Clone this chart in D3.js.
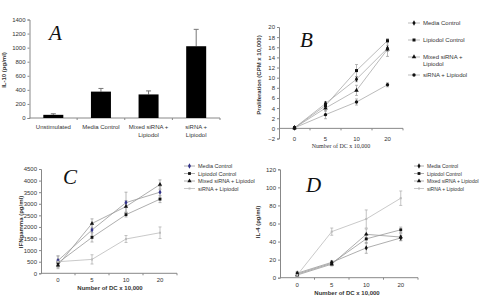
<!DOCTYPE html>
<html>
<head>
<meta charset="utf-8">
<script src="https://cdn.jsdelivr.net/npm/d3@7"></script>
<style>
  body { margin: 0; background: #fff; }
  svg { display: block; font-family: "Liberation Sans", Arial, sans-serif; }
  .tick text { fill: #333; font-size: 6px; }
  .letter { font-family: "Liberation Serif", "Times New Roman", serif; font-style: italic; font-size: 21px; fill: #111; }
</style>
</head>
<body>
<div id="chart"></div>
<script>
// panel A - IL-10
const groupsA = ['Unstimulated', 'Media Control', 'Mixed siRNA +|Lipiodol', 'siRNA +|Lipiodol'];
const il10 = [45, 375, 335, 1020];
const il10Err = [15, 45, 50, 240];

// x categories shared by B, C, D
const dcCounts = ['0', '5', '10', '20'];
const seriesNames = ['Media Control', 'Lipiodol Control', 'Mixed siRNA + Lipiodol', 'siRNA + Lipiodol'];

// panel B - proliferation
const prolMedia = [0.1, 4.9, 9.7, 15.8];
const prolLipiodol = [0.1, 4.5, 11.4, 17.3];
const prolMixed = [0.1, 4.0, 7.5, 15.6];
const prolSirna = [0.1, 2.7, 5.2, 8.6];
const prolErr = [[0.2, 0.4, 0.5, 0.6], [0.2, 0.5, 1.2, 0.4], [0.2, 0.6, 1.0, 1.4], [0.2, 0.8, 0.6, 0.4]];

// panel C - IFN-gamma
const ifnMedia = [550, 1870, 3050, 3500];
const ifnLipiodol = [450, 1550, 2530, 3200];
const ifnMixed = [350, 2150, 2880, 3830];
const ifnSirna = [500, 600, 1480, 1750];
const ifnErr = [[200, 250, 450, 250], [150, 200, 100, 150], [150, 200, 250, 200], [250, 200, 150, 250]];

// panel D - IL-4
const il4Media = [5, 17, 33, 44];
const il4Lipiodol = [4, 16, 43, 53];
const il4Mixed = [3, 15, 48, 45];
const il4Sirna = [3, 51, 65, 88];
const il4Err = [[2, 2, 6, 3], [2, 2, 5, 3], [2, 2, 6, 4], [2, 4, 10, 8]];

const W = 483, H = 303;
let svg = d3.select('#chart').append('svg').attr('width', W).attr('height', H);

const axisColor = '#888';

function yAxis(g, y, x0, ticks) {
  let ax = g.append('g')
      .attr('transform', 'translate(' + x0 + ',0)')
      .call(d3.axisLeft(y).tickValues(ticks).tickFormat(d3.format('d')).tickSize(2).tickPadding(2));
  ax.selectAll('path, line').attr('stroke', axisColor);
  return ax;
}

function marker(g, type, cx, cy, color, s) {
  let sym = {diamond: d3.symbolDiamond, square: d3.symbolSquare, triangle: d3.symbolTriangle,
    circle: d3.symbolCircle, dash: d3.symbolSquare}[type];
  g.append('path')
      .attr('d', d3.symbol().type(sym).size(type === 'dash' ? 4 : s)())
      .attr('transform', 'translate(' + cx + ',' + cy + ')')
      .attr('fill', color);
}

// ---------------- A ----------------
(function () {
  let g = svg.append('g');
  let y = d3.scaleLinear().domain([0, 1400]).range([118, 19.5]);
  let x = d3.scaleBand().domain(groupsA).range([29.5, 220]).paddingInner(0.58).paddingOuter(0.29);
  let xb = d3.scaleBand().domain(groupsA).range([29.5, 220]);

  yAxis(g, y, 29.5, d3.range(0, 1401, 200));
  g.selectAll(null).data(xb.domain()).enter().append('line')
      .attr('x1', d => xb(d) + xb.bandwidth()).attr('x2', d => xb(d) + xb.bandwidth())
      .attr('y1', 118).attr('y2', 120).attr('stroke', axisColor);
  g.append('line').attr('x1', 29.5).attr('x2', 220).attr('y1', 118).attr('y2', 118).attr('stroke', axisColor);

  g.selectAll('.err').data(groupsA).enter().append('g').each(function (d, i) {
    let cx = x(d) + x.bandwidth() / 2;
    let e = d3.select(this);
    e.append('line').attr('x1', cx).attr('x2', cx)
        .attr('y1', y(il10[i])).attr('y2', y(il10[i] + il10Err[i])).attr('stroke', '#777');
    e.append('line').attr('x1', cx - 2.5).attr('x2', cx + 2.5)
        .attr('y1', y(il10[i] + il10Err[i])).attr('y2', y(il10[i] + il10Err[i])).attr('stroke', '#777');
  });

  g.selectAll('.bar').data(groupsA).enter().append('rect')
      .attr('x', d => x(d))
      .attr('width', x.bandwidth())
      .attr('y', (d, i) => y(il10[i]))
      .attr('height', (d, i) => 118 - y(il10[i]))
      .attr('fill', '#000');

  g.selectAll('.lbl').data(groupsA).enter().append('text')
      .attr('x', d => xb(d) + xb.bandwidth() / 2)
      .attr('y', 129)
      .attr('text-anchor', 'middle')
      .attr('font-size', 6)
      .attr('fill', '#333')
      .each(function (d) {
        let parts = d.split('|');
        let t = d3.select(this);
        parts.forEach((p, k) => t.append('tspan').attr('x', xb(d) + xb.bandwidth() / 2).attr('dy', k ? 7.5 : 0).text(p));
      });

  g.append('text').attr('transform', 'translate(6,70) rotate(-90)')
      .attr('text-anchor', 'middle').attr('font-size', 6).attr('font-weight', 'bold').attr('fill', '#333')
      .text('IL-10 (pg/ml)');
  g.append('text').attr('class', 'letter').attr('x', 49).attr('y', 40).text('A');
})();

// generic line panel
function linePanel(cfg) {
  let g = svg.append('g');
  let y = d3.scaleLinear().domain(cfg.yDomain).range(cfg.yRange);
  let xb = d3.scaleBand().domain(dcCounts).range(cfg.xRange);
  let cx = d => xb(d) + xb.bandwidth() / 2;
  let baseY = y(0);

  yAxis(g, y, cfg.xRange[0], cfg.yTicks);
  g.selectAll(null).data(dcCounts).enter().append('line')
      .attr('x1', d => xb(d) + xb.bandwidth()).attr('x2', d => xb(d) + xb.bandwidth())
      .attr('y1', baseY).attr('y2', baseY + 2).attr('stroke', axisColor);
  g.append('line').attr('x1', cfg.xRange[0]).attr('x2', cfg.xRange[1])
      .attr('y1', baseY).attr('y2', baseY).attr('stroke', axisColor);

  g.selectAll('.xl').data(dcCounts).enter().append('text')
      .attr('x', cx).attr('y', cfg.xLabelY)
      .attr('text-anchor', 'middle').attr('font-size', 6).attr('fill', '#333')
      .text(d => d);

  let line = d3.line().x((v, i) => cx(dcCounts[i])).y(v => y(v));

  cfg.series.forEach((s, k) => {
    g.append('path').datum(s.values)
        .attr('d', line).attr('fill', 'none')
        .attr('stroke', s.line).attr('stroke-width', 0.8);
    s.values.forEach((v, i) => {
      let e = s.err[i], px = cx(dcCounts[i]);
      g.append('line').attr('x1', px).attr('x2', px).attr('y1', y(v - e)).attr('y2', y(v + e))
          .attr('stroke', s.errColor || '#999').attr('stroke-width', 0.7);
      [v - e, v + e].forEach(w => g.append('line')
          .attr('x1', px - 1.5).attr('x2', px + 1.5).attr('y1', y(w)).attr('y2', y(w))
          .attr('stroke', s.errColor || '#999').attr('stroke-width', 0.7));
    });
  });
  cfg.series.forEach(s => {
    s.values.forEach((v, i) => marker(g, s.marker, cx(dcCounts[i]), y(v), s.color, cfg.markerSize));
  });

  // legend
  cfg.series.forEach((s, k) => {
    let ly = cfg.legendY[k];
    let tx = cfg.legendX + cfg.legendLine + 3;
    g.append('line').attr('x1', cfg.legendX).attr('x2', cfg.legendX + cfg.legendLine)
        .attr('y1', ly).attr('y2', ly).attr('stroke', s.line).attr('stroke-width', 0.8);
    marker(g, s.marker, cfg.legendX + cfg.legendLine / 2, ly, s.color, cfg.markerSize);
    let t = g.append('text').attr('x', tx).attr('y', ly + 2)
        .attr('font-size', cfg.legendFont || 6).attr('fill', '#333');
    let parts = (cfg.legendLabels || seriesNames)[k].split('|');
    parts.forEach((p, j) => t.append('tspan').attr('x', tx).attr('dy', j ? 7 : 0).text(p));
  });

  g.append('text').attr('x', cfg.xTitle[0]).attr('y', cfg.xTitle[1])
      .attr('text-anchor', 'middle').attr('font-size', 6)
      .attr('font-weight', cfg.serifTitle ? 'normal' : 'bold')
      .attr('font-family', cfg.serifTitle ? '"Liberation Serif", serif' : null)
      .attr('fill', '#333').text('Number of DC x 10,000');
  g.append('text').attr('transform', 'translate(' + cfg.yTitle[0] + ',' + cfg.yTitle[1] + ') rotate(-90)')
      .attr('text-anchor', 'middle').attr('font-size', 6).attr('font-weight', 'bold').attr('fill', '#333')
      .text(cfg.yTitleText);
  g.append('text').attr('class', 'letter').attr('x', cfg.letter[0]).attr('y', cfg.letter[1]).text(cfg.letter[2]);
}

// ---------------- B ----------------
linePanel({
  yDomain: [-2, 20], yRange: [138.5, 27], yTicks: d3.range(-2, 21, 2),
  xRange: [279, 403], xLabelY: 141,
  series: [
    {values: prolMedia, err: prolErr[0], marker: 'diamond', color: '#111', line: '#aaa'},
    {values: prolLipiodol, err: prolErr[1], marker: 'square', color: '#111', line: '#aaa'},
    {values: prolMixed, err: prolErr[2], marker: 'triangle', color: '#111', line: '#aaa'},
    {values: prolSirna, err: prolErr[3], marker: 'circle', color: '#111', line: '#aaa'}
  ],
  markerSize: 9,
  legendX: 408, legendLine: 12, legendY: [23, 40, 57, 75],
  legendLabels: ['Media Control', 'Lipiodol Control', 'Mixed siRNA +|Lipiodol', 'siRNA + Lipiodol'],
  xTitle: [341, 148], serifTitle: true,
  yTitle: [261, 75], yTitleText: 'Proliferation (CPM x 10,000)',
  letter: [300, 47, 'B']
});

// ---------------- C ----------------
linePanel({
  yDomain: [0, 4500], yRange: [273.3, 169], yTicks: d3.range(0, 4501, 500),
  xRange: [41, 177], xLabelY: 282,
  series: [
    {values: ifnMedia, err: ifnErr[0], marker: 'diamond', color: '#33338a', line: '#999'},
    {values: ifnLipiodol, err: ifnErr[1], marker: 'square', color: '#111', line: '#999'},
    {values: ifnMixed, err: ifnErr[2], marker: 'triangle', color: '#111', line: '#999'},
    {values: ifnSirna, err: ifnErr[3], marker: 'dash', color: '#bbb', line: '#bbb', errColor: '#aaa'}
  ],
  markerSize: 8,
  legendX: 184, legendLine: 11, legendY: [166, 173.5, 181, 188.5], legendFont: 5.5,
  xTitle: [110, 290],
  yTitle: [23, 222], yTitleText: 'IFNgamma (pg/ml)',
  letter: [63, 184, 'C']
});

// ---------------- D ----------------
linePanel({
  yDomain: [0, 120], yRange: [277.7, 169.3], yTicks: d3.range(0, 121, 20),
  xRange: [280, 418], xLabelY: 287,
  series: [
    {values: il4Media, err: il4Err[0], marker: 'diamond', color: '#111', line: '#999'},
    {values: il4Lipiodol, err: il4Err[1], marker: 'square', color: '#111', line: '#999'},
    {values: il4Mixed, err: il4Err[2], marker: 'triangle', color: '#111', line: '#999'},
    {values: il4Sirna, err: il4Err[3], marker: 'dash', color: '#bbb', line: '#bbb', errColor: '#aaa'}
  ],
  markerSize: 8,
  legendX: 414, legendLine: 10, legendY: [166, 173.5, 181, 188.5], legendFont: 5,
  xTitle: [347, 295],
  yTitle: [260, 222], yTitleText: 'IL-4 (pg/ml)',
  letter: [306, 192, 'D']
});
</script>
</body>
</html>
